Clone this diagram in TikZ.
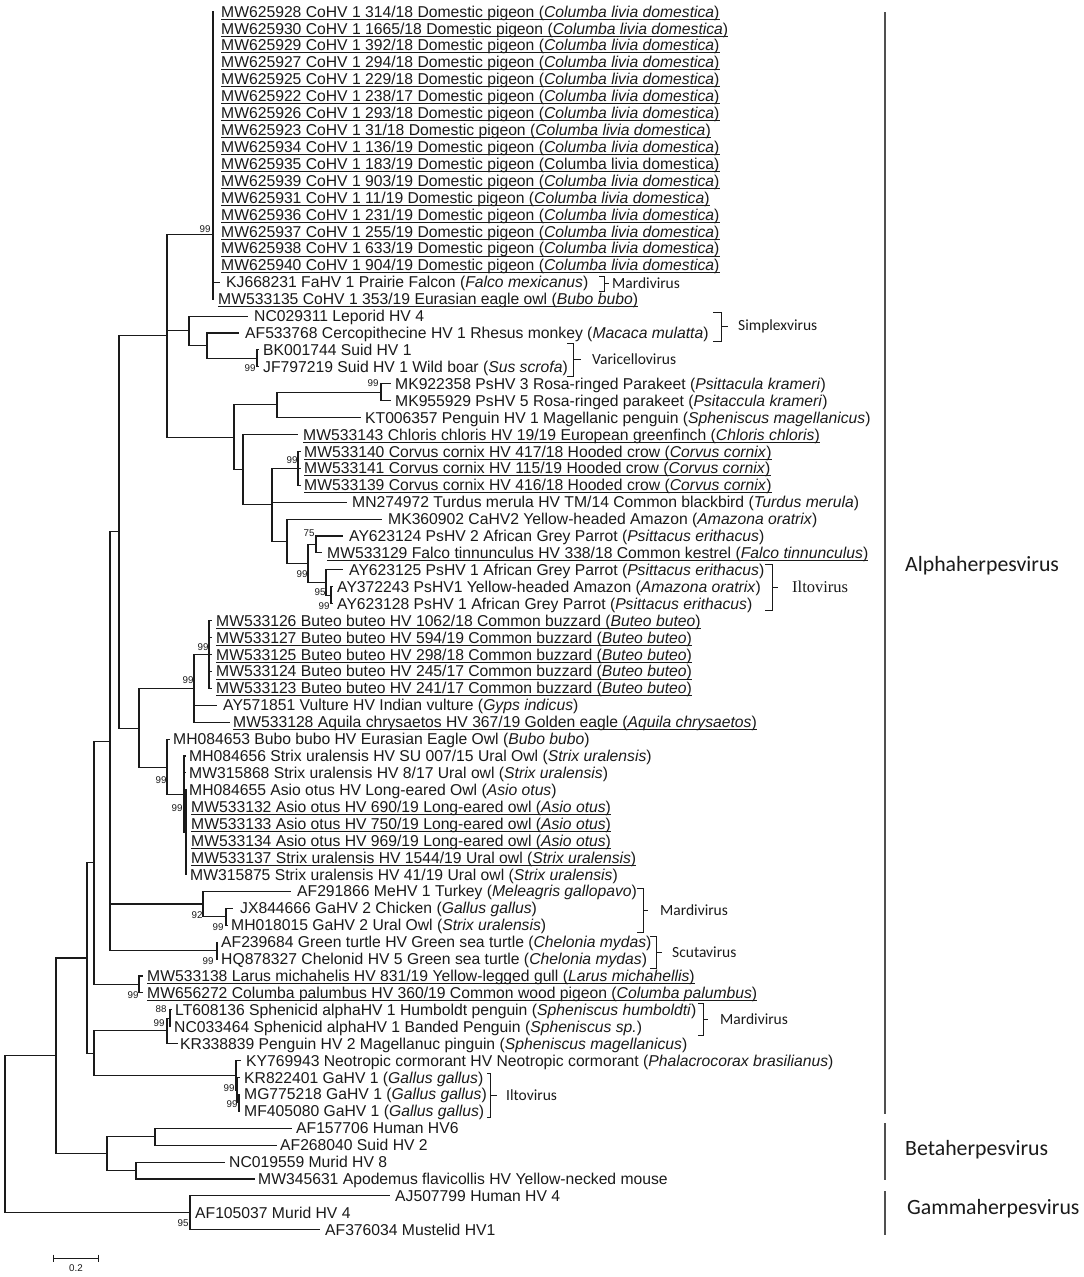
\documentclass[tikz,border=0pt]{standalone}
\usepackage{fontspec}
\setmainfont{Liberation Sans}
\newfontfamily\calfont{Carlito}
\newfontfamily\serfont{Liberation Serif}
\definecolor{barc}{HTML}{505050}
\definecolor{ink}{HTML}{1A1A1A}
\def\R#1{(11.5+16.92*(#1))}
\newcommand\pig[2]{#1 CoHV 1 #2 Domestic pigeon (\textit{Columba livia domestica})}
\newcommand\leaf[4]{\coordinate (t#1) at (#2,{\R{#1}}); \node[lf] (L#1) at (#3,{\R{#1}+5.6}) {#4};}
\newcommand\uleaf[4]{\leaf{#1}{#2}{#3}{#4}\draw[ulline] ([yshift=-2pt]L#1.base west) -- ([yshift=-2pt]L#1.base east);}
\newcommand\bsl[3]{\node[bsf] (bs#1) at (#2) {#3};}
\newcommand\brk[6]{% name, x1, x2, ytop, ybot, xtick
  \draw[brkline] (#2,#4) -- (#3,#4) -- (#3,#5) -- (#2,#5);
  \draw[brkline] (#3,{(#4+#5)/2}) -- (#6,{(#4+#5)/2});
  \coordinate (#1) at (#6,{(#4+#5)/2});}
\begin{document}
\begin{tikzpicture}[x=1pt,y=-1pt,
  lf/.style={anchor=base west,inner sep=0pt,text=ink,font=\fontsize{15.7}{18}\selectfont},
  ulline/.style={line width=0.9pt,ink},
  bsf/.style={inner sep=0pt,text=ink,font=\fontsize{9.8}{10}\selectfont},
  br/.style={line width=1.1pt,ink},
  brkline/.style={line width=0.8pt,ink},
  clade/.style={anchor=west,inner sep=0pt,text=ink,font=\calfont\fontsize{15.5}{17}\selectfont},
  big/.style={anchor=west,inner sep=0pt,text=ink,font=\calfont\fontsize{21.8}{24}\selectfont},
  bar/.style={line width=2pt,barc}]
\useasboundingbox (0,0) rectangle (1084,1277);
\fill[white] (0,0) rectangle (1084,1277);

% ---------- internal nodes ----------
\coordinate (nRoot) at (5,{\R{66.36}});
\coordinate (nAB) at (56,{\R{61.72}});
\coordinate (nAlpha) at (87,{\R{55.94}});
\coordinate (nNA) at (94,{\R{50.31}});
\coordinate (n110) at (110,{\R{43.12}});
\coordinate (n119) at (119,{\R{30.74}});
\coordinate (n167) at (167,{\R{19.13}});
\coordinate (nCo) at (213,{\R{13.2}});
\coordinate (nSimp) at (189,{\R{18.875}});
\coordinate (nSimp2) at (207,{\R{19.75}});
\coordinate (nVari) at (257,{\R{20.5}});
\coordinate (nPsi) at (234,{\R{25.16}});
\coordinate (n277) at (277,{\R{23.25}});
\coordinate (nPs35) at (381,{\R{22.5}});
\coordinate (n243) at (243,{\R{27.08}});
\coordinate (n272) at (272,{\R{29.16}});
\coordinate (nCorv) at (298,{\R{27}});
\coordinate (n287) at (287,{\R{31.31}});
\coordinate (n308) at (308,{\R{32.625}});
\coordinate (n316) at (316,{\R{31.5}});
\coordinate (n326) at (326,{\R{33.75}});
\coordinate (n331) at (331,{\R{34.5}});
\coordinate (n139) at (139,{\R{42.35}});
\coordinate (nBut) at (194,{\R{40}});
\coordinate (nBut2) at (209,{\R{38}});
\coordinate (nOwl) at (167,{\R{44.7}});
\coordinate (nOwl2) at (184,{\R{46.25}});
\coordinate (nOwl3) at (186,{\R{48.5}});
\coordinate (nMar) at (203,{\R{52.75}});
\coordinate (nMar2) at (226,{\R{53.5}});
\coordinate (nTurt) at (217,{\R{55.5}});
\coordinate (nLar) at (139,{\R{57.5}});
\coordinate (nLow) at (94,{\R{61.56}});
\coordinate (nPen) at (167,{\R{60.25}});
\coordinate (nPen2) at (170,{\R{59.5}});
\coordinate (nCorm) at (236,{\R{62.875}});
\coordinate (nGa) at (237,{\R{63.75}});
\coordinate (nGa2) at (239,{\R{64.5}});
\coordinate (nBeta) at (107,{\R{67.5}});
\coordinate (nB1) at (155,{\R{66.5}});
\coordinate (nB2) at (136,{\R{68.5}});
\coordinate (nGam) at (190,{\R{71}});

% ---------- leaves ----------
\uleaf{0}{214}{221}{\pig{MW625928}{314/18}}
\uleaf{1}{214}{221}{\pig{MW625930}{1665/18}}
\uleaf{2}{214}{221}{\pig{MW625929}{392/18}}
\uleaf{3}{214}{221}{\pig{MW625927}{294/18}}
\uleaf{4}{214}{221}{\pig{MW625925}{229/18}}
\uleaf{5}{214}{221}{\pig{MW625922}{238/17}}
\uleaf{6}{214}{221}{\pig{MW625926}{293/18}}
\uleaf{7}{214}{221}{\pig{MW625923}{31/18}}
\uleaf{8}{214}{221}{\pig{MW625934}{136/19}}
\uleaf{9}{214}{221}{MW625935 CoHV 1 183/19 Domestic pigeon (Columba livia domestica)}
\uleaf{10}{214}{221}{\pig{MW625939}{903/19}}
\uleaf{11}{214}{221}{\pig{MW625931}{11/19}}
\uleaf{12}{214}{221}{\pig{MW625936}{231/19}}
\uleaf{13}{214}{221}{\pig{MW625937}{255/19}}
\uleaf{14}{214}{221}{\pig{MW625938}{633/19}}
\uleaf{15}{214}{221}{\pig{MW625940}{904/19}}
\leaf{16}{220}{226}{KJ668231 FaHV 1 Prairie Falcon (\textit{Falco mexicanus})}
\uleaf{17}{214}{218}{MW533135 CoHV 1 353/19 Eurasian eagle owl (\textit{Bubo bubo})}
\leaf{18}{248}{254}{NC029311 Leporid HV 4}
\leaf{19}{239}{245}{AF533768 Cercopithecine HV 1 Rhesus monkey (\textit{Macaca mulatta})}
\leaf{20}{259}{263}{BK001744 Suid HV 1}
\leaf{21}{259}{263}{JF797219 Suid HV 1 Wild boar (\textit{Sus scrofa})}
\leaf{22}{391}{395}{MK922358 PsHV 3 Rosa-ringed Parakeet (\textit{Psittacula krameri})}
\leaf{23}{391}{395}{MK955929 PsHV 5 Rosa-ringed parakeet (\textit{Psitaccula krameri})}
\leaf{24}{361}{365}{KT006357 Penguin HV 1 Magellanic penguin (\textit{Spheniscus magellanicus})}
\uleaf{25}{298}{303}{MW533143 Chloris chloris HV 19/19 European greenfinch (\textit{Chloris chloris})}
\uleaf{26}{301}{304}{MW533140 Corvus cornix HV 417/18 Hooded crow (\textit{Corvus cornix})}
\uleaf{27}{301}{304}{MW533141 Corvus cornix HV 115/19 Hooded crow (\textit{Corvus cornix})}
\uleaf{28}{301}{304}{MW533139 Corvus cornix HV 416/18 Hooded crow (\textit{Corvus cornix})}
\leaf{29}{347}{352}{MN274972 Turdus merula HV TM/14 Common blackbird (\textit{Turdus merula})}
\leaf{30}{382}{388}{MK360902 CaHV2 Yellow-headed Amazon (\textit{Amazona oratrix})}
\leaf{31}{343}{349}{AY623124 PsHV 2 African Grey Parrot (\textit{Psittacus erithacus})}
\uleaf{32}{322}{327}{MW533129 Falco tinnunculus HV 338/18 Common kestrel (\textit{Falco tinnunculus})}
\leaf{33}{343}{349}{AY623125 PsHV 1 African Grey Parrot (\textit{Psittacus erithacus})}
\leaf{34}{333}{337}{AY372243 PsHV1 Yellow-headed Amazon (\textit{Amazona oratrix})}
\leaf{35}{333}{337}{AY623128 PsHV 1 African Grey Parrot (\textit{Psittacus erithacus})}
\uleaf{36}{212}{216}{MW533126 Buteo buteo HV 1062/18 Common buzzard (\textit{Buteo buteo})}
\uleaf{37}{212}{216}{MW533127 Buteo buteo HV 594/19 Common buzzard (\textit{Buteo buteo})}
\uleaf{38}{212}{216}{MW533125 Buteo buteo HV 298/18 Common buzzard (\textit{Buteo buteo})}
\uleaf{39}{212}{216}{MW533124 Buteo buteo HV 245/17 Common buzzard (\textit{Buteo buteo})}
\uleaf{40}{212}{216}{MW533123 Buteo buteo HV 241/17 Common buzzard (\textit{Buteo buteo})}
\leaf{41}{217}{223}{AY571851 Vulture HV Indian vulture (\textit{Gyps indicus})}
\uleaf{42}{230}{233}{MW533128 Aquila chrysaetos HV 367/19 Golden eagle (\textit{Aquila chrysaetos})}
\leaf{43}{170}{173}{MH084653 Bubo bubo HV Eurasian Eagle Owl (\textit{Bubo bubo})}
\leaf{44}{186}{189}{MH084656 Strix uralensis HV SU 007/15 Ural Owl (\textit{Strix uralensis})}
\leaf{45}{186}{189}{MW315868 Strix uralensis HV 8/17 Ural owl (\textit{Strix uralensis})}
\leaf{46}{187}{189}{MH084655 Asio otus HV Long-eared Owl (\textit{Asio otus})}
\uleaf{47}{187}{191}{MW533132 Asio otus HV 690/19 Long-eared owl (\textit{Asio otus})}
\uleaf{48}{187}{191}{MW533133 Asio otus HV 750/19 Long-eared owl (\textit{Asio otus})}
\uleaf{49}{187}{191}{MW533134 Asio otus HV 969/19 Long-eared owl (\textit{Asio otus})}
\uleaf{50}{187}{191}{MW533137 Strix uralensis HV 1544/19 Ural owl (\textit{Strix uralensis})}
\leaf{51}{187}{190}{MW315875 Strix uralensis HV 41/19 Ural owl (\textit{Strix uralensis})}
\leaf{52}{291}{297}{AF291866 MeHV 1 Turkey (\textit{Meleagris gallopavo})}
\leaf{53}{233}{240}{JX844666 GaHV 2 Chicken (\textit{Gallus gallus})}
\leaf{54}{228}{231}{MH018015 GaHV 2 Ural Owl (\textit{Strix uralensis})}
\leaf{55}{218}{221}{AF239684 Green turtle HV Green sea turtle (\textit{Chelonia mydas})}
\leaf{56}{218}{221}{HQ878327 Chelonid HV 5 Green sea turtle (\textit{Chelonia mydas})}
\uleaf{57}{143}{147}{MW533138 Larus michahelis HV 831/19 Yellow-legged gull (\textit{Larus michahellis})}
\uleaf{58}{143}{147}{MW656272 Columba palumbus HV 360/19 Common wood pigeon (\textit{Columba palumbus})}
\leaf{59}{172}{175}{LT608136 Sphenicid alphaHV 1 Humboldt penguin (\textit{Spheniscus humboldti})}
\leaf{60}{171}{174}{NC033464 Sphenicid alphaHV 1 Banded Penguin (\textit{Spheniscus sp.})}
\leaf{61}{178}{180}{KR338839 Penguin HV 2 Magellanuc pinguin (\textit{Spheniscus magellanicus})}
\leaf{62}{241}{246}{KY769943 Neotropic cormorant HV Neotropic cormorant (\textit{Phalacrocorax brasilianus})}
\leaf{63}{240}{244}{KR822401 GaHV 1 (\textit{Gallus gallus})}
\leaf{64}{240}{244}{MG775218 GaHV 1 (\textit{Gallus gallus})}
\leaf{65}{240}{244}{MF405080 GaHV 1 (\textit{Gallus gallus})}
\leaf{66}{292}{296}{AF157706 Human HV6}
\leaf{67}{277}{280}{AF268040 Suid HV 2}
\leaf{68}{225}{229}{NC019559 Murid HV 8}
\leaf{69}{255}{258}{MW345631 Apodemus flavicollis HV Yellow-necked mouse}
\leaf{70}{390}{395}{AJ507799 Human HV 4}
\leaf{71}{190}{195}{AF105037 Murid HV 4}
\leaf{72}{320}{325}{AF376034 Mustelid HV1}

% ---------- branches ----------
\foreach \p/\c in {nRoot/nAB,nRoot/nGam,nAB/nAlpha,nAB/nBeta,nAlpha/nNA,nAlpha/nLow,
  nNA/n110,nNA/nLar,n110/n119,n110/nMar,n110/nTurt,n119/n167,n119/n139,
  n167/nCo,n167/nSimp,n167/nPsi,nSimp/t18,nSimp/nSimp2,nSimp2/t19,nSimp2/nVari,nVari/t20,nVari/t21,
  nPsi/n277,nPsi/n243,n277/nPs35,n277/t24,nPs35/t22,nPs35/t23,n243/t25,n243/n272,
  n272/nCorv,n272/t29,n272/n287,nCorv/t26,nCorv/t27,nCorv/t28,n287/t30,n287/n308,
  n308/n316,n308/n326,n316/t31,n316/t32,n326/t33,n326/n331,n331/t34,n331/t35,
  n139/nBut,n139/nOwl,nBut/nBut2,nBut/t41,nBut/t42,nBut2/t36,nBut2/t37,nBut2/t38,nBut2/t39,nBut2/t40,
  nOwl/t43,nOwl/nOwl2,nOwl2/t44,nOwl2/t45,nOwl2/nOwl3,nOwl3/t46,nOwl3/t47,nOwl3/t48,nOwl3/t49,nOwl3/t50,nOwl3/t51,
  nMar/t52,nMar/nMar2,nMar2/t53,nMar2/t54,nTurt/t55,nTurt/t56,nLar/t57,nLar/t58,
  nLow/nPen,nLow/nCorm,nPen/nPen2,nPen/t61,nPen2/t59,nPen2/t60,
  nCorm/t62,nCorm/nGa,nGa/t63,nGa/nGa2,nGa2/t64,nGa2/t65,
  nBeta/nB1,nBeta/nB2,nB1/t66,nB1/t67,nB2/t68,nB2/t69,nGam/t70,nGam/t71,nGam/t72}
  \draw[br] (\p) |- (\c);
\foreach \i in {0,...,17} \draw[br] (nCo) |- (t\i);

% ---------- bootstrap values ----------
\bsl{1}{205,229}{99}
\bsl{2}{250,368}{99}
\bsl{3}{373,383}{99}
\bsl{4}{292,460}{99}
\bsl{5}{309,533}{75}
\bsl{6}{302,574}{99}
\bsl{7}{320,592}{95}
\bsl{8}{324,606}{99}
\bsl{9}{203,647}{99}
\bsl{10}{188,680}{99}
\bsl{11}{161,780}{99}
\bsl{12}{177,808}{99}
\bsl{13}{197,915}{92}
\bsl{14}{218,927}{99}
\bsl{15}{208,961}{99}
\bsl{16}{133,995}{99}
\bsl{17}{161,1009}{88}
\bsl{18}{159,1023}{99}
\bsl{19}{229,1088}{99}
\bsl{20}{232,1104}{99}
\bsl{21}{183,1223}{95}

% ---------- genus brackets ----------
\brk{kMar1}{599}{604}{276}{291}{609}
\node[clade] (gMar1) at ([xshift=3pt]kMar1) {Mardivirus};
\brk{kSimp}{713}{721}{312}{341}{728}
\node[clade] (gSimp) at ([xshift=10pt]kSimp) {Simplexvirus};
\brk{kVari}{567}{573}{343}{376}{581}
\node[clade] (gVari) at ([xshift=11pt]kVari) {Varicellovirus};
\brk{kIlt1}{765}{772}{564}{610}{778}
\node[anchor=west,inner sep=0pt,text=ink,font=\serfont\fontsize{16.5}{18}\selectfont] (gIlt1) at ([xshift=14pt]kIlt1) {Iltovirus};
\brk{kMar2}{637}{643}{888}{932}{648}
\node[clade] (gMar2) at ([xshift=12pt]kMar2) {Mardivirus};
\brk{kScut}{650}{656}{936}{968}{662}
\node[clade] (gScut) at ([xshift=10pt]kScut) {Scutavirus};
\brk{kMar3}{698}{703}{1003}{1035}{708}
\node[clade] (gMar3) at ([xshift=12pt]kMar3) {Mardivirus};
\brk{kIlt2}{487}{490}{1073}{1117}{497}
\node[clade] (gIlt2) at ([xshift=9pt]kIlt2) {Iltovirus};

% ---------- subfamily bars ----------
\draw[bar] (885,12) -- (885,1114);
\draw[bar] (885,1123) -- (885,1180);
\draw[bar] (885,1191) -- (885,1235);
\node[big] (fAlpha) at (905,566) {Alphaherpesvirus};
\node[big] (fBeta) at (905,1150) {Betaherpesvirus};
\node[big] (fGamma) at (907,1209) {Gammaherpesvirus};

% ---------- scale bar ----------
\draw[line width=0.9pt,ink] (53,1258) -- (98,1258);
\draw[line width=0.9pt,ink] (53,1254.5) -- (53,1261.5);
\draw[line width=0.9pt,ink] (98,1254.5) -- (98,1261.5);
\node[bsf] (scl) at (76,1268) {0.2};
\end{tikzpicture}
\end{document}
